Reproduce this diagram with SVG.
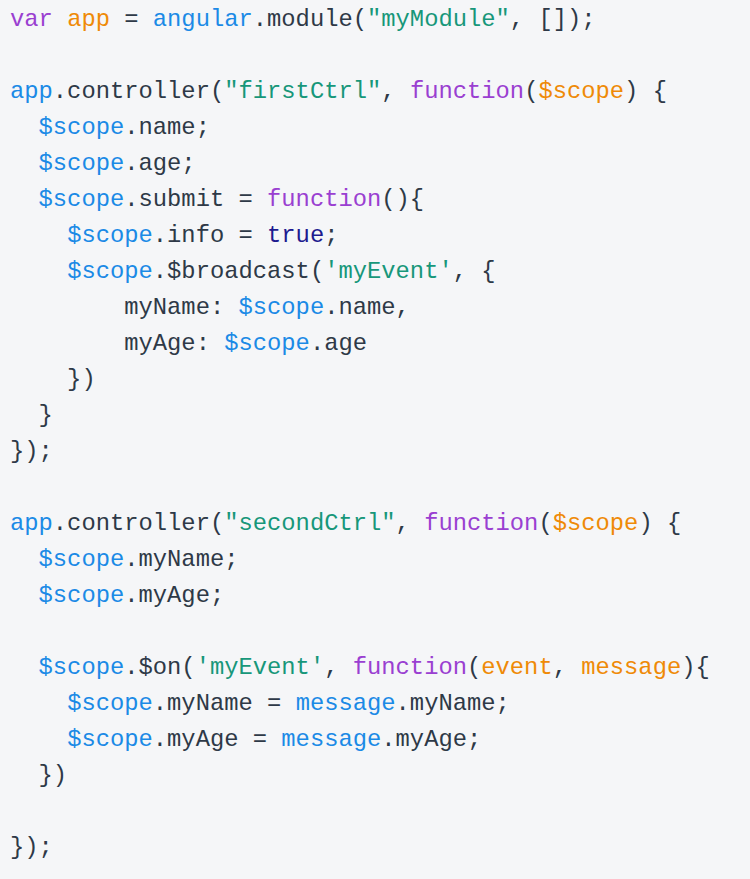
<svg xmlns="http://www.w3.org/2000/svg" width="750" height="879" viewBox="0 0 750 879">
<style>
text{font-family:"Liberation Mono","DejaVu Sans Mono",monospace;font-size:23.8px;fill:#2e3947;white-space:pre}
.k{fill:#9a3fd1}.o{fill:#ef8a07}.b{fill:#1b8ae6}.s{fill:#17977a}.t{fill:#1d1a8f}
</style>
<rect width="750" height="879" fill="#f5f6f8"/>
<g id="code" xml:space="preserve">
<text x="10" y="26"><tspan class="k">var</tspan> <tspan class="o">app</tspan> = <tspan class="b">angular</tspan>.module(<tspan class="s">"myModule"</tspan>, []);</text>
<text x="10" y="98"><tspan class="b">app</tspan>.controller(<tspan class="s">"firstCtrl"</tspan>, <tspan class="k">function</tspan>(<tspan class="o">$scope</tspan>) {</text>
<text x="10" y="134">  <tspan class="b">$scope</tspan>.name;</text>
<text x="10" y="170">  <tspan class="b">$scope</tspan>.age;</text>
<text x="10" y="206">  <tspan class="b">$scope</tspan>.submit = <tspan class="k">function</tspan>(){</text>
<text x="10" y="242">    <tspan class="b">$scope</tspan>.info = <tspan class="t">true</tspan>;</text>
<text x="10" y="278">    <tspan class="b">$scope</tspan>.$broadcast(<tspan class="s">'myEvent'</tspan>, {</text>
<text x="10" y="314">        myName: <tspan class="b">$scope</tspan>.name,</text>
<text x="10" y="350">        myAge: <tspan class="b">$scope</tspan>.age</text>
<text x="10" y="386">    })</text>
<text x="10" y="422">  }</text>
<text x="10" y="458">});</text>
<text x="10" y="530"><tspan class="b">app</tspan>.controller(<tspan class="s">"secondCtrl"</tspan>, <tspan class="k">function</tspan>(<tspan class="o">$scope</tspan>) {</text>
<text x="10" y="566">  <tspan class="b">$scope</tspan>.myName;</text>
<text x="10" y="602">  <tspan class="b">$scope</tspan>.myAge;</text>
<text x="10" y="674">  <tspan class="b">$scope</tspan>.$on(<tspan class="s">'myEvent'</tspan>, <tspan class="k">function</tspan>(<tspan class="o">event</tspan>, <tspan class="o">message</tspan>){</text>
<text x="10" y="710">    <tspan class="b">$scope</tspan>.myName = <tspan class="b">message</tspan>.myName;</text>
<text x="10" y="746">    <tspan class="b">$scope</tspan>.myAge = <tspan class="b">message</tspan>.myAge;</text>
<text x="10" y="782">  })</text>
<text x="10" y="854">});</text>
</g>
</svg>
